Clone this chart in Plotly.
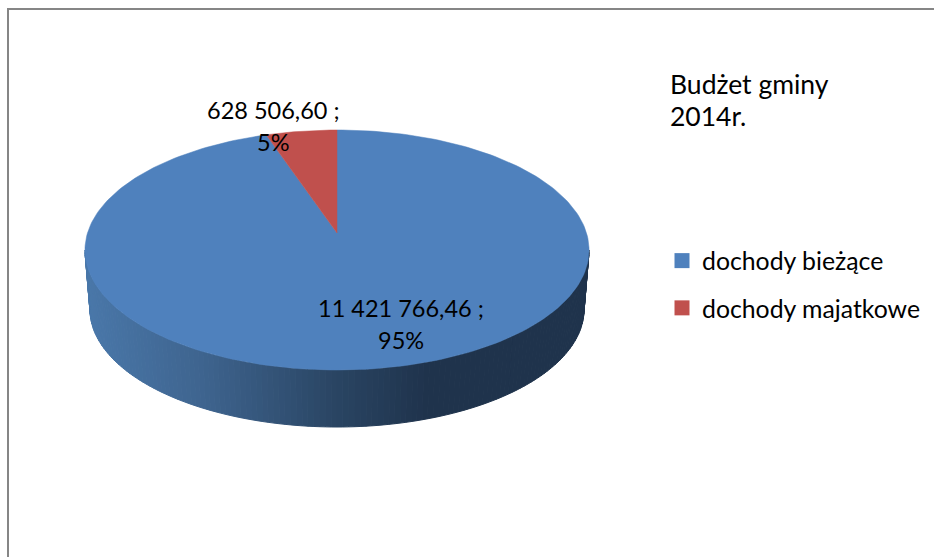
import numpy as np
import plotly.graph_objects as go

categories = ["dochody bieżące", "dochody majatkowe"]
values = [11421766.46, 628506.60]
colors = ["#4F81BD", "#C0504D"]
title_lines = ["Budżet gminy", "2014r."]

W, H = 934, 557
CX, CY_APEX = 337, 233
A, B, K = 249.5, 117.6, 0.1416
BOTTOM_SCALE, DROP, CY_E = 0.98, 59.4, 250

def rim(t):
    u, v = np.sin(t), np.cos(t)
    w = 1 + K * v
    return CX + A * u / w, CY_APEX - B * v / w

def rim_bottom(t):
    x, y = rim(t)
    return CX + (x - CX) * BOTTOM_SCALE, CY_E + (y - CY_E) * BOTTOM_SCALE + DROP

def fmt(v):
    s = f"{v:,.2f}"
    return s.replace(",", " ").replace(".", ",")

grad_x = [85, 200, 337, 430, 590]
grad_c = [(0x4A, 0x78, 0xAA), (0x3F, 0x65, 0x90), (0x2A, 0x45, 0x63), (0x1F, 0x33, 0x4C), (0x1F, 0x33, 0x4C)]

def side_color(x):
    return "rgb(%d,%d,%d)" % tuple(int(np.interp(x, grad_x, [c[i] for c in grad_c])) for i in range(3))

fig = go.Figure()

# side wall strips, between the two horizontal extremes of the top rim
t0 = np.arccos(-K)
edges = np.linspace(t0, 2 * np.pi - t0, 141)
for a, b in zip(edges[:-1], edges[1:]):
    ts = np.array([a, b])
    x1, y1 = rim(ts)
    x2, y2 = rim_bottom(ts)
    xs = [x1[0], x1[1], x2[1], x2[0], x1[0]]
    ys = [y1[0], y1[1], y2[1], y2[0], y1[0]]
    c = side_color(float(np.mean(xs)))
    fig.add_trace(go.Scatter(x=xs, y=ys, mode="lines", fill="toself", fillcolor=c,
                             line=dict(color=c, width=1), showlegend=False, hoverinfo="skip"))

total = sum(values)
start = 0.0
for i in range(len(values)):
    sweep = 2 * np.pi * values[i] / total
    ts = np.linspace(start, start + sweep, 240)
    x, y = rim(ts)
    fig.add_trace(go.Scatter(x=[CX, *x, CX], y=[CY_APEX, *y, CY_APEX], mode="lines", fill="toself",
                             fillcolor=colors[i], line=dict(color=colors[i], width=0.5),
                             showlegend=False, hoverinfo="skip"))
    start += sweep

for i in range(len(values)):
    fig.add_trace(go.Scatter(x=[None], y=[None], mode="markers", name=categories[i], legendgroup=str(i),
                             marker=dict(symbol="square", size=15, color=colors[i])))

font = "Lato"
label_pos = [(401, 308, 340), (273, 110, 142)]
ann = []
for i in range(len(values)):
    xp, y1, y2 = label_pos[i]
    ann.append(dict(x=xp, y=y1, text=fmt(values[i]) + " ;", showarrow=False, xanchor="center", yanchor="middle",
                    font=dict(family=font, size=23.5, color="#000")))
    ann.append(dict(x=xp, y=y2, text=f"{round(100 * values[i] / total)}%", showarrow=False, xanchor="center", yanchor="middle",
                    font=dict(family=font, size=23.5, color="#000")))
ann.append(dict(x=668, y=116, text=title_lines[1], showarrow=False, xanchor="left", yanchor="middle",
                font=dict(family=font, size=26.5, color="#000")))

fig.update_layout(
    width=W, height=H, margin=dict(l=0, r=0, t=0, b=0, autoexpand=False),
    paper_bgcolor="white", plot_bgcolor="white",
    xaxis=dict(range=[0, W], visible=False, fixedrange=True),
    yaxis=dict(range=[H, 0], visible=False, fixedrange=True),
    title=dict(text=title_lines[0], x=670 / W, y=1 - 85 / H, xanchor="left", yanchor="middle", xref="paper", yref="paper",
               font=dict(family=font, size=26.5, color="#000")),
    legend=dict(x=662 / W, y=1 - 238 / H, xanchor="left", yanchor="top", tracegroupgap=12, bgcolor="rgba(0,0,0,0)",
                font=dict(family=font, size=24.8, color="#000"), itemwidth=30),
    annotations=ann,
    shapes=[
        dict(type="line", x0=7, x1=W, y0=9, y1=9, line=dict(color="#868686", width=2)),
        dict(type="line", x0=8, x1=8, y0=8, y1=H, line=dict(color="#868686", width=2)),
    ],
)
fig.write_html("out.html", config={"displayModeBar": False},
               post_script="document.body.style.margin='0';document.body.style.overflow='hidden';")
